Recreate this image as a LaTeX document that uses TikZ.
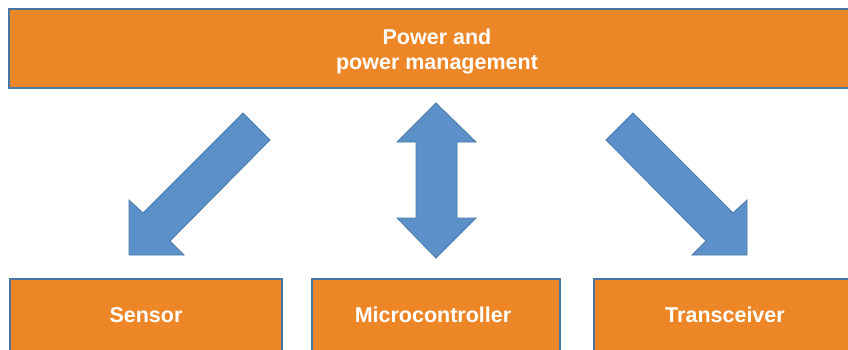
\documentclass[tikz,border=0pt]{standalone}
\usepackage{fontspec}
\setmainfont{Liberation Sans}
\definecolor{boxfill}{HTML}{ED8627}
\definecolor{boxline}{HTML}{4A76A3}
\definecolor{arrowfill}{HTML}{5B91C8}
\definecolor{arrowline}{HTML}{4A7AAA}
\tikzset{
  box/.style={rectangle, fill=boxfill, draw=boxline, line width=1.4pt, inner sep=0pt},
  boxtext/.style={text=white, font=\fontsize{21.5}{25}\selectfont\bfseries, align=center, inner sep=0pt},
  blockarrow/.style={fill=arrowfill, draw=arrowline, line width=0.8pt, line join=miter}
}
\begin{document}
\begin{tikzpicture}[x=1pt,y=-1pt]
\useasboundingbox (0,0) rectangle (848,349);
\clip (0,0) rectangle (848,349);
\fill[white] (0,0) rectangle (848,349);
% boxes
\node[box, minimum width=856pt, minimum height=79pt] (power) at (437,48.5) {};
\node[box, minimum width=272pt, minimum height=76pt] (sensor) at (146,317) {};
\node[box, minimum width=248pt, minimum height=76pt] (mcu) at (436,317) {};
\node[box, minimum width=262pt, minimum height=76pt] (trx) at (725,317) {};
% labels
\node[boxtext] (powertext) at ([yshift=-3pt]power.center) {Power and\\power management};
\node[boxtext] (sensortext) at ([yshift=2pt]sensor.center) {Sensor};
\node[boxtext] (mcutext) at ([yshift=2pt,xshift=-3pt]mcu.center) {Microcontroller};
\node[boxtext] (trxtext) at ([yshift=2pt]trx.center) {Transceiver};
% left arrow
\draw[blockarrow] (243,113) -- (270,140) -- (170,241) -- (184,255) -- (129,255) -- (129,200) -- (143,213) -- cycle;
% right arrow
\draw[blockarrow] (633,113) -- (606,140) -- (706,241) -- (692,255) -- (747,255) -- (747,200) -- (733,213) -- cycle;
% middle double arrow
\draw[blockarrow] (436,103) -- (476,142) -- (457,142) -- (457,218) -- (476,218) -- (436,258) -- (397,218) -- (416,218) -- (416,142) -- (397,142) -- cycle;
\end{tikzpicture}
\end{document}
